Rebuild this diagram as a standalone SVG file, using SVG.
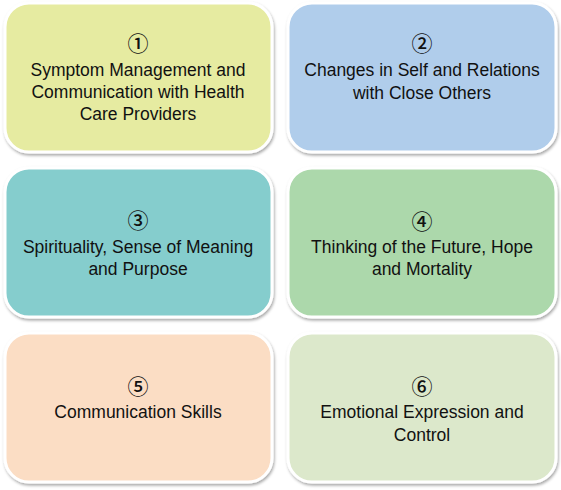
<svg xmlns="http://www.w3.org/2000/svg" width="561" height="490" viewBox="0 0 561 490">
<defs>
<filter id="sh" x="-10%" y="-10%" width="120%" height="125%">
<feDropShadow dx="1" dy="2" stdDeviation="1.5" flood-color="#000" flood-opacity="0.35"/>
</filter>
</defs>
<style>
.box{stroke:#ffffff;stroke-width:3;filter:url(#sh)}
.t{font-family:"Liberation Sans","Noto Sans",sans-serif;font-size:17.5px;fill:#111;text-anchor:middle}
.n{font-family:"Noto Sans CJK JP","DejaVu Sans",sans-serif;font-size:21px;font-weight:500;fill:#111;text-anchor:middle}
</style>
<rect width="561" height="490" fill="#ffffff"/>
<g id="node1">
<rect class="box" x="5" y="3" width="267" height="149" rx="24" fill="#e6eba1"/>
<text class="n" x="138" y="51">①</text>
<text class="t" x="138" y="76">Symptom Management and</text>
<text class="t" x="138" y="98">Communication with Health</text>
<text class="t" x="138" y="120">Care Providers</text>
</g>
<g id="node2">
<rect class="box" x="288" y="3" width="268" height="149" rx="24" fill="#b0cdeb"/>
<text class="n" x="422" y="51">②</text>
<text class="t" x="422" y="76">Changes in Self and Relations</text>
<text class="t" x="422" y="99">with Close Others</text>
</g>
<g id="node3">
<rect class="box" x="5" y="168" width="267" height="149" rx="24" fill="#85cdcd"/>
<text class="n" x="138" y="228">③</text>
<text class="t" x="138" y="253">Spirituality, Sense of Meaning</text>
<text class="t" x="138" y="275">and Purpose</text>
</g>
<g id="node4">
<rect class="box" x="288" y="168" width="268" height="149" rx="24" fill="#acd8ab"/>
<text class="n" x="422" y="229">④</text>
<text class="t" x="422" y="253">Thinking of the Future, Hope</text>
<text class="t" x="422" y="275">and Mortality</text>
</g>
<g id="node5">
<rect class="box" x="5" y="333" width="267" height="149" rx="24" fill="#fbddc4"/>
<text class="n" x="138" y="394">⑤</text>
<text class="t" x="138" y="418">Communication Skills</text>
</g>
<g id="node6">
<rect class="box" x="288" y="333" width="268" height="149" rx="24" fill="#dce8cb"/>
<text class="n" x="422" y="394">⑥</text>
<text class="t" x="422" y="418">Emotional Expression and</text>
<text class="t" x="422" y="441">Control</text>
</g>
<g id="connectors"></g>
</svg>
